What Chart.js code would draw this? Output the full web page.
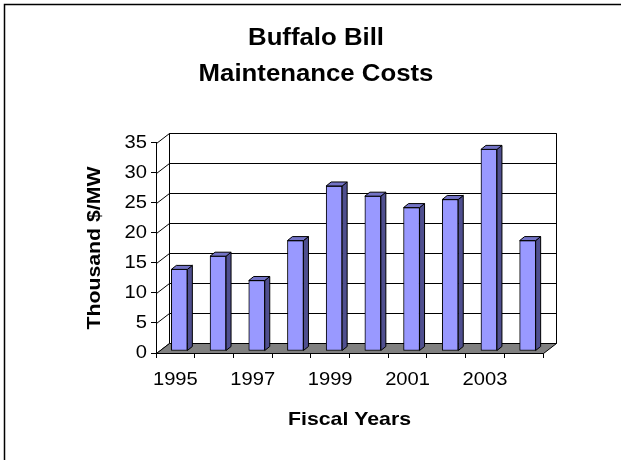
<!DOCTYPE html>
<html><head><meta charset="utf-8">
<script src="https://cdn.jsdelivr.net/npm/chart.js@4/dist/chart.umd.min.js"></script>
<style>html,body{margin:0;padding:0;background:#fff}canvas{display:block}</style>
</head><body>
<canvas id="c" width="621" height="460"></canvas>
<script>
// ---- data ----
const categories = ['1995','1996','1997','1998','1999','2000','2001','2002','2003','2004'];
const costs = [13.6, 15.8, 11.75, 18.4, 27.5, 25.8, 23.9, 25.25, 33.6, 18.4];
const yTicks = [0, 5, 10, 15, 20, 25, 30, 35];
const titleLines = ['Buffalo Bill', 'Maintenance Costs'];
const yTitle = 'Thousand $/MW';
const xTitle = 'Fiscal Years';

// ---- style ----
const FONT = "'Liberation Sans', Arial, sans-serif";
const TEXT_STRETCH = 1.12;
const WALL = {dx: 13, dy: -10};
const BAR_OFF = {dx: 4, dy: -2};
const BAR_DEPTH = {dx: 5, dy: -4};
const FRONT = '#9999FF', SIDE = '#4f4f8f', TOP = '#7373c6', FLOOR = '#808080';

const stretchText = {
  id: 'stretchText',
  beforeInit(chart) {
    const ctx = chart.ctx;
    const orig = CanvasRenderingContext2D.prototype.fillText;
    ctx.fillText = function (t, x, y) {
      this.save(); this.translate(x, y); this.scale(TEXT_STRETCH, 1);
      orig.call(this, t, 0, 0); this.restore();
    };
  }
};

function poly(ctx, pts, fill) {
  ctx.beginPath();
  pts.forEach((p, i) => i ? ctx.lineTo(p[0], p[1]) : ctx.moveTo(p[0], p[1]));
  ctx.closePath();
  if (fill) { ctx.fillStyle = fill; ctx.fill(); }
  ctx.stroke();
}

const box3d = {
  id: 'box3d',
  beforeDraw(chart) {
    const ctx = chart.ctx;
    ctx.save();
    ctx.strokeStyle = '#000'; ctx.lineWidth = 1.5;
    ctx.beginPath(); ctx.moveTo(4.5, 460); ctx.lineTo(4.5, 4.5); ctx.lineTo(621, 4.5); ctx.stroke();
    ctx.restore();
  },
  beforeDatasetsDraw(chart) {
    const {ctx, chartArea: a, scales: {y}} = chart;
    const L = Math.round(a.left) + 0.5, R = Math.round(a.right) + 0.5;
    const y0 = Math.round(y.getPixelForValue(0)) + 0.5;
    const yT = Math.round(y.getPixelForValue(yTicks[yTicks.length - 1])) + 0.5;
    const dx = WALL.dx, dy = WALL.dy;
    ctx.save();
    ctx.strokeStyle = '#000'; ctx.lineWidth = 1;
    poly(ctx, [[L + dx, yT + dy], [R + dx, yT + dy], [R + dx, y0 + dy], [L + dx, y0 + dy]], '#fff');
    yTicks.forEach(v => {
      const py = Math.round(y.getPixelForValue(v)) + 0.5;
      ctx.beginPath();
      ctx.moveTo(L, py); ctx.lineTo(L + dx, py + dy);
      if (v > 0) ctx.lineTo(R + dx, py + dy);
      ctx.stroke();
    });
    poly(ctx, [[L, y0], [R, y0], [R + dx, y0 + dy], [L + dx, y0 + dy]], FLOOR);
    ctx.restore();
    ctx.save();
    ctx.translate(BAR_OFF.dx, BAR_OFF.dy);
  },
  afterDatasetsDraw(chart) {
    const ctx = chart.ctx;
    ctx.restore();
    const meta = chart.getDatasetMeta(0);
    ctx.save();
    ctx.strokeStyle = '#000'; ctx.lineWidth = 1;
    const bx = BAR_DEPTH.dx, by = BAR_DEPTH.dy;
    meta.data.forEach(el => {
      const l = el.x - el.width / 2 + BAR_OFF.dx;
      const r = el.x + el.width / 2 + BAR_OFF.dx;
      const t = el.y + BAR_OFF.dy;
      const b = el.base + BAR_OFF.dy;
      poly(ctx, [[r, t], [r + bx, t + by], [r + bx, b + by], [r, b]], SIDE);
      poly(ctx, [[l, t], [l + bx, t + by], [r + bx, t + by], [r, t]], TOP);
    });
    ctx.restore();
  }
};

new Chart(document.getElementById('c'), {
  type: 'bar',
  data: {
    labels: categories,
    datasets: [{
      data: costs,
      backgroundColor: FRONT,
      borderColor: '#000',
      borderWidth: 1,
      borderSkipped: false,
      barThickness: 16,
      clip: false
    }]
  },
  options: {
    responsive: false,
    animation: false,
    devicePixelRatio: 1,
    layout: {padding: {left: 89, top: 0, right: 78, bottom: 27}},
    plugins: {
      legend: {display: false},
      tooltip: {enabled: false},
      title: {
        display: true,
        text: titleLines,
        color: '#000',
        font: {family: FONT, size: 23, weight: 'bold', lineHeight: 1.543},
        padding: {top: 21, bottom: 51}
      }
    },
    scales: {
      x: {
        afterFit: s => { s.height = 80; },
        grid: {offset: true, drawOnChartArea: false, drawTicks: true, tickLength: 5, color: '#000'},
        border: {display: true, color: '#000'},
        ticks: {
          autoSkip: false, maxRotation: 0, color: '#000', padding: 11,
          font: {family: FONT, size: 18},
          callback: (v, i) => (i % 2 === 0 ? categories[i] : '')
        },
        title: {display: true, text: xTitle, color: '#000', padding: {top: 0, bottom: 2},
          font: {family: FONT, size: 19, weight: 'bold'}}
      },
      y: {
        min: 0, max: 35,
        afterFit: s => { s.width = 67; },
        afterBuildTicks: s => { s.ticks = yTicks.map(v => ({value: v})); },
        grid: {drawOnChartArea: false, drawTicks: true, tickLength: 5, color: '#000'},
        border: {display: true, color: '#000'},
        ticks: {color: '#000', padding: 4, font: {family: FONT, size: 18}},
        title: {display: true, text: yTitle, color: '#000', padding: {top: -5.4, bottom: 0},
          font: {family: FONT, size: 19, weight: 'bold'}}
      }
    }
  },
  plugins: [stretchText, box3d]
});
</script>
</body></html>
